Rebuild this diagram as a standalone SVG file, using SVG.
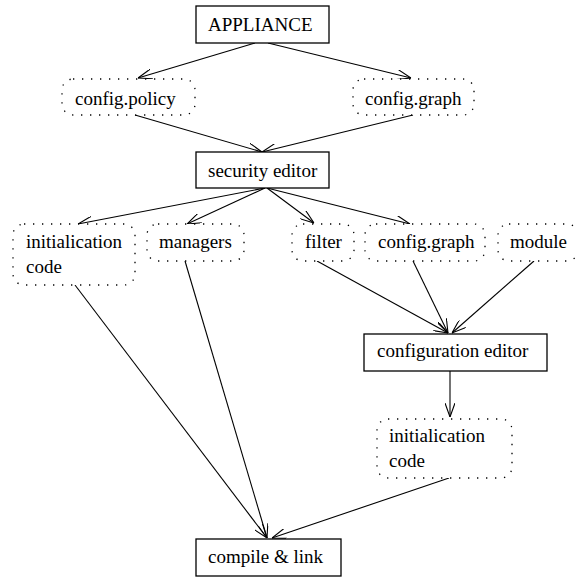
<svg xmlns="http://www.w3.org/2000/svg" width="577" height="577" viewBox="0 0 577 577">
<style>
text{font-family:"Liberation Serif","Times New Roman",serif;font-size:19px;fill:#000}
.box{fill:#fff;stroke:#000;stroke-width:1.3}
.dot{fill:#fff;stroke:#000;stroke-width:1.3;stroke-dasharray:1.3 7.7}
.edge{stroke:#000;stroke-width:1.1;fill:none;marker-end:url(#arr)}
</style>
<defs>
<marker id="arr" viewBox="0 0 14 10" refX="14" refY="5" markerWidth="14" markerHeight="10" markerUnits="userSpaceOnUse" orient="auto">
<path d="M0,0 L14,5 L0,10" fill="none" stroke="#000" stroke-width="1.1"/>
</marker>
</defs>
<rect width="577" height="577" fill="#fff"/>
<g id="edges">
<line class="edge" x1="255" y1="43" x2="138" y2="78"/>
<line class="edge" x1="268" y1="43" x2="411" y2="78"/>
<line class="edge" x1="135" y1="115" x2="262" y2="152"/>
<line class="edge" x1="413" y1="115" x2="262" y2="152"/>
<line class="edge" x1="265" y1="188" x2="78" y2="224"/>
<line class="edge" x1="265" y1="188" x2="187" y2="224"/>
<line class="edge" x1="267" y1="188" x2="314" y2="223"/>
<line class="edge" x1="267" y1="188" x2="410" y2="224"/>
<line class="edge" x1="317" y1="261" x2="448" y2="333"/>
<line class="edge" x1="413" y1="261" x2="448" y2="333"/>
<line class="edge" x1="534" y1="261" x2="452" y2="333"/>
<line class="edge" x1="450" y1="371" x2="450" y2="417"/>
<line class="edge" x1="75" y1="285" x2="267" y2="538"/>
<line class="edge" x1="185" y1="261" x2="267" y2="538"/>
<line class="edge" x1="449" y1="478" x2="272" y2="538"/>
</g>
<g id="appliance"><rect class="box" x="196" y="6" width="133" height="37"/><text x="208" y="31">APPLIANCE</text></g>
<g id="config-policy"><rect class="dot" x="62" y="79" width="133" height="36" rx="11"/><text x="75" y="105">config.policy</text></g>
<g id="config-graph-1"><rect class="dot" x="353" y="79" width="121" height="36" rx="11"/><text x="365" y="105">config.graph</text></g>
<g id="security-editor"><rect class="box" x="196" y="152" width="133" height="36"/><text x="208" y="177">security editor</text></g>
<g id="init-code-1"><rect class="dot" x="13" y="224" width="122" height="61" rx="11"/><text x="26" y="248">initialication</text><text x="26" y="273">code</text></g>
<g id="managers"><rect class="dot" x="147" y="224" width="97" height="37" rx="11"/><text x="159" y="248">managers</text></g>
<g id="filter"><rect class="dot" x="292" y="224" width="62" height="37" rx="11"/><text x="305" y="248">filter</text></g>
<g id="config-graph-2"><rect class="dot" x="365" y="224" width="120" height="37" rx="11"/><text x="378" y="248">config.graph</text></g>
<g id="module"><rect class="dot" x="498" y="224" width="80" height="37" rx="11"/><text x="510" y="248">module</text></g>
<g id="configuration-editor"><rect class="box" x="364" y="334" width="183" height="37"/><text x="377" y="357">configuration editor</text></g>
<g id="init-code-2"><rect class="dot" x="377" y="419" width="135" height="59" rx="11"/><text x="389" y="442">initialication</text><text x="389" y="467">code</text></g>
<g id="compile-link"><rect class="box" x="196" y="539" width="145" height="37"/><text x="208" y="563">compile &amp; link</text></g>
</svg>
